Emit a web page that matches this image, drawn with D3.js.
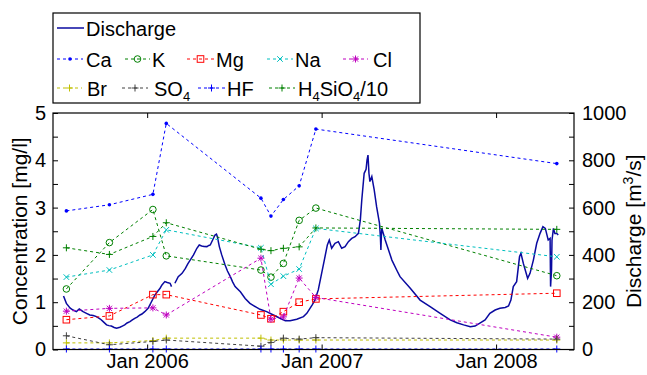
<!DOCTYPE html>
<html>
<head>
<meta charset="utf-8">
<script src="https://cdn.jsdelivr.net/npm/d3@7"></script>
<style>
  body { margin: 0; background: #fff; }
  svg { font-family: "Liberation Sans", Arial, sans-serif; }
</style>
</head>
<body>
<script>
// chart size
var svgWidth = 647;
var svgHeight = 375;
// plot box
var margin = { top: 113, bottom: 25.5, left: 53, right: 73 };
var chartWidth = svgWidth - margin.left - margin.right;
var chartHeight = svgHeight - margin.top - margin.bottom;

// sample dates for the chemistry
var sampleDates = ["2005-07-16", "2005-10-14", "2006-01-13", "2006-02-10", "2006-08-27",
  "2006-09-17", "2006-10-13", "2006-11-15", "2006-12-20", "2008-05-07"];
// concentrations [mg/l]
var ca = [2.93, 3.06, 3.28, 4.78, 3.20, 2.82, 3.17, 3.46, 4.66, 3.93];
var k = [1.28, 2.26, 2.96, 1.98, 1.68, 1.53, 1.82, 2.73, 2.99, 1.56];
var mg = [0.63, 0.71, 1.16, 1.16, 0.73, 0.65, 0.80, 1.00, 1.07, 1.19];
var na = [1.53, 1.68, 2.00, 2.53, 2.15, 1.38, 1.55, 1.70, 2.56, 1.96];
var cl = [0.81, 0.87, 0.88, 0.73, 1.93, 0.64, 0.69, 1.51, 1.10, 0.26];
var br = [0.14, 0.14, 0.19, 0.24, 0.24, 0.20, 0.20, 0.20, 0.20, 0.20];
var so4 = [0.29, 0.10, 0.17, 0.20, 0.07, 0.15, 0.24, 0.22, 0.25, 0.22];
var hf = [0.01, 0.01, 0.01, 0.01, 0.01, 0.01, 0.01, 0.01, 0.01, 0.01];
var h4sio4 = [2.15, 2.01, 2.39, 2.68, 2.12, 2.09, 2.14, 2.17, 2.57, 2.54];

// discharge: days after 1 Jan 2006 and flow [m3/s] (null = gap)
var dischargeDays = [-175, -169, -161, -155, -148, -142, -134, -128, -120, -113, -106, -98, -92, -85,
  -80, -75, -69, -64, -57, -52, -47, -42, -36, -31, -26, -21, -15, -11, -5, 2, 9, 16, 21, 27, 31,
  37, 42, 48, 51, 54, 58, 65, 73, 80, 85, 90, 97, 104, 109, 114, 119, 125, 129, 132, 137, 142,
  145, 147, 149, 151, 156, 163, 168, 174, 179, 184, 195, 205, 215, 229, 236, 250, 264, 278, 289,
  299, 313, 327, 334, 345, 351, 358, 365, 372, 377, 381, 386, 393, 400, 407, 414, 421, 428, 435,
  442, 446, 449, 454, 458, 460, 462, 464, 466, 470, 475, 480, 486, 488, 489, 490, 491, 498, 505,
  512, 522, 529, 550, 571, 592, 613, 634, 648, 662, 676, 686, 697, 707, 717, 728, 738, 749, 756,
  761, 766, 773, 779, 782, 787, 796, 801, 808, 815, 822, 828, 833, 839, 843, 844, 846, 847, 850,
  853, 857, 860];
var dischargeFlow = [226, 195, 175, 167, 160, 171, 160, 154, 146, 144, 139, 129, 118, 104,
  101, 99, 93, 90, 94, 99, 104, 112, 118, 125, 132, 137, 146, 150, 160, 174, 202, 230, 243, 259, 273,
  287, 283, 280, 266, null, 280, 308, 322, 343, 362, 378, 400, 428, 442, 438, 436, 435, 440, 442, 463, 484,
  488, 477, 455, 435, 400, 357, 332, 308, 285, 266, 244, 216, 195, 178, 170, 160, 146, 132, 122,
  122, 128, 139, 153, 188, 209, 252, 322, 392, 442, 463, 428, 449, 456, 428, 435, 456, 470, 477,
  491, 548, 632, 745, 762, 801, 822, 745, 710, 731, 675, 604, 534, 476, 421, 480, 512, 463, 421,
  378, 336, 308, 260, 209, 181, 153, 125, 113, 104, 96, 99, 113, 125, 153, 167, 174, 178, 184,
  209, 266, 287, 392, 407, 364, 301, 322, 378, 449, 491, 519, 512, 463, 470, 266, 336, 463, 512,
  491, 491, 484];

var baseDate = new Date(Date.UTC(2006, 0, 1));
var parseDate = d3.utcParse("%Y-%m-%d");

var svg = d3.select("body")
  .append("svg")
  .attr("width", svgWidth)
  .attr("height", svgHeight);

var chartGroup = svg.append("g")
  .attr("transform", `translate(${margin.left}, ${margin.top})`);

// scales
var xTimeScale = d3.scaleUtc()
  .domain([parseDate("2005-06-18"), parseDate("2008-06-12")])
  .range([0, chartWidth]);
var yConc = d3.scaleLinear().domain([0, 5]).range([chartHeight, 0]);
var yFlow = d3.scaleLinear().domain([0, 1000]).range([chartHeight, 0]);

// series list for concentrations
var series = [
  { name: "Ca", values: ca, color: "#0000ff", marker: "dot" },
  { name: "K", values: k, color: "#008000", marker: "circle" },
  { name: "Mg", values: mg, color: "#ff0000", marker: "square" },
  { name: "Na", values: na, color: "#00bfbf", marker: "x" },
  { name: "Cl", values: cl, color: "#bf00bf", marker: "star" },
  { name: "Br", values: br, color: "#bfbf00", marker: "plus" },
  { name: "SO4", values: so4, color: "#404040", marker: "plus" },
  { name: "HF", values: hf, color: "#0000ff", marker: "plus" },
  { name: "H4SiO4/10", values: h4sio4, color: "#008000", marker: "plus" }
];

// draw a marker into group g at (cx, cy)
function drawMarker(g, type, cx, cy, color) {
  if (type == "dot") {
    g.append("circle").attr("cx", cx).attr("cy", cy).attr("r", 1.8).attr("fill", color);
  } else if (type == "circle") {
    g.append("circle").attr("cx", cx).attr("cy", cy).attr("r", 3.3)
      .attr("fill", "none").attr("stroke", color).attr("stroke-width", 1);
  } else if (type == "square") {
    g.append("rect").attr("x", cx - 3.3).attr("y", cy - 3.3).attr("width", 6.6).attr("height", 6.6)
      .attr("fill", "none").attr("stroke", color).attr("stroke-width", 1);
  } else {
    var s = 3.5;
    var p = "";
    if (type == "plus" || type == "star") p += `M${cx - s},${cy}H${cx + s}M${cx},${cy - s}V${cy + s}`;
    if (type == "x" || type == "star") {
      var t = type == "star" ? 2.6 : 2.8;
      p += `M${cx - t},${cy - t}L${cx + t},${cy + t}M${cx - t},${cy + t}L${cx + t},${cy - t}`;
    }
    g.append("path").attr("d", p).attr("stroke", color).attr("stroke-width", 1).attr("fill", "none");
  }
}

// axes with inward ticks
var tickYears = [parseDate("2006-01-01"), parseDate("2007-01-01"), parseDate("2008-01-01")];
var axisBottom = d3.axisBottom(xTimeScale).tickValues(tickYears).tickSize(-5).tickPadding(4)
  .tickFormat(d3.utcFormat("Jan %Y"));
var axisTop = d3.axisTop(xTimeScale).tickValues(tickYears).tickSize(-5).tickFormat("");
var axisLeft = d3.axisLeft(yConc).tickValues(d3.range(0, 5.01, 0.5)).tickSize(-5).tickPadding(7)
  .tickFormat(d => Number.isInteger(d) ? d : "");
var axisRight = d3.axisRight(yFlow).tickValues(d3.range(0, 1001, 100)).tickSize(-5).tickPadding(8)
  .tickFormat(d => d % 200 == 0 ? d : "");

function styleAxis(sel) {
  sel.select(".domain").remove();
  sel.selectAll("line").attr("stroke", "#000");
  sel.selectAll("text").attr("font-size", 20).attr("fill", "#000")
    .attr("font-family", "Liberation Sans, Arial, sans-serif");
}
chartGroup.append("g").attr("transform", `translate(0,${chartHeight})`).call(axisBottom).call(styleAxis);
chartGroup.append("g").call(axisTop).call(styleAxis);
chartGroup.append("g").call(axisLeft).call(styleAxis);
chartGroup.append("g").attr("transform", `translate(${chartWidth},0)`).call(axisRight).call(styleAxis);

// discharge line
var flowData = dischargeDays.map((d, i) => ({ date: d3.utcDay.offset(baseDate, d), flow: dischargeFlow[i] }));
var drawFlow = d3.line()
  .defined(d => d.flow != null)
  .x(d => xTimeScale(d.date))
  .y(d => yFlow(d.flow));
chartGroup.append("path")
  .attr("d", drawFlow(flowData))
  .attr("fill", "none")
  .attr("stroke", "#0a0aa0")
  .attr("stroke-width", 1.5);

// concentration lines and markers
var dates = sampleDates.map(parseDate);
series.forEach(function (s) {
  var drawLine = d3.line()
    .x((d, i) => xTimeScale(dates[i]))
    .y(d => yConc(d));
  chartGroup.append("path")
    .attr("d", drawLine(s.values))
    .attr("fill", "none")
    .attr("stroke", s.color)
    .attr("stroke-width", 1)
    .attr("stroke-dasharray", "3,3");
  var mg = chartGroup.append("g");
  s.values.forEach(function (v, i) {
    drawMarker(mg, s.marker, xTimeScale(dates[i]), yConc(v), s.color);
  });
});

// plot box
chartGroup.append("rect")
  .attr("width", chartWidth)
  .attr("height", chartHeight)
  .attr("fill", "none")
  .attr("stroke", "#000")
  .attr("stroke-width", 1.2);

// axis labels
svg.append("text")
  .attr("transform", `translate(27,${margin.top + chartHeight / 2}) rotate(-90)`)
  .attr("text-anchor", "middle")
  .attr("font-size", 21)
  .text("Concentration [mg/l]");
var rLab = svg.append("text")
  .attr("transform", `translate(641,${margin.top + chartHeight / 2}) rotate(-90)`)
  .attr("text-anchor", "middle")
  .attr("font-size", 21);
rLab.append("tspan").text("Discharge [m");
rLab.append("tspan").attr("font-size", 14).attr("dy", -8).text("3");
rLab.append("tspan").attr("dy", 8).text("/s]");

// legend
var legend = svg.append("g");
legend.append("rect")
  .attr("x", 53).attr("y", 13).attr("width", 367).attr("height", 90)
  .attr("fill", "#fff").attr("stroke", "#000").attr("stroke-width", 1.2);

legend.append("line").attr("x1", 57).attr("x2", 84).attr("y1", 28).attr("y2", 28)
  .attr("stroke", "#0a0aa0").attr("stroke-width", 1.5);
legend.append("text").attr("x", 86).attr("y", 35.5).attr("font-size", 20).text("Discharge");

// legend item positions: [line start, line end, text x, row y]
var legendPos = [[57, 83, 86, 59], [125, 150, 152, 59], [187, 214, 216, 59], [267, 293, 295, 59],
  [343, 368, 373, 59], [57, 82, 87, 88], [122, 148, 154, 88], [198, 225, 227, 88], [269, 295, 298, 88]];
var legendLabels = [["Ca"], ["K"], ["Mg"], ["Na"], ["Cl"], ["Br"], ["SO", "4"], ["HF"],
  ["H", "4", "SiO", "4", "/10"]];

series.forEach(function (s, i) {
  var p = legendPos[i];
  legend.append("line").attr("x1", p[0]).attr("x2", p[1]).attr("y1", p[3]).attr("y2", p[3])
    .attr("stroke", s.color).attr("stroke-width", 1).attr("stroke-dasharray", "3,3");
  drawMarker(legend, s.marker, (p[0] + p[1]) / 2, p[3], s.color);
  var t = legend.append("text").attr("x", p[2]).attr("y", p[3] + 7.5).attr("font-size", 20);
  legendLabels[i].forEach(function (part, j) {
    if (j % 2 == 1) {
      t.append("tspan").attr("font-size", 13).attr("dy", 5).text(part);
    } else {
      t.append("tspan").attr("dy", j > 0 ? -5 : 0).text(part);
    }
  });
});
</script>
</body>
</html>
